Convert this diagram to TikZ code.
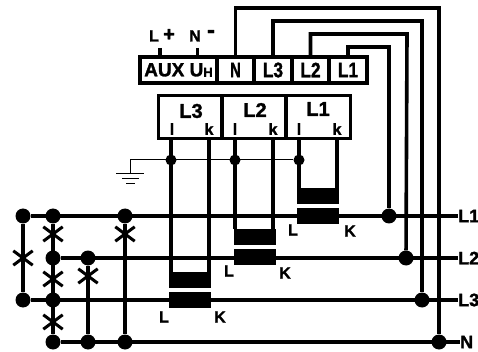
\documentclass[tikz,border=0pt]{standalone}
\usepackage{fontspec}
\setmainfont[BoldFeatures={FakeBold=1.5}]{Liberation Sans}
\usepackage{tikz}
\usetikzlibrary{shapes}

\newcommand{\narrowtext}[2]{\scalebox{#1}[1]{\bfseries\fontsize{21}{21}\selectfont #2}}

\tikzset{
    wire/.style={draw=black, line width=3.6pt},
    thinwire/.style={draw=black, line width=1pt},
    joint/.style={circle, fill=black, inner sep=0pt, minimum size=15pt},
    smalljoint/.style={circle, fill=black, inner sep=0pt, minimum size=11pt},
    corebar/.style={rectangle, fill=black, inner sep=0pt, minimum width=42pt, minimum height=16pt},
    terminal/.style={rectangle, draw=black, line width=3.8pt, fill=white, inner sep=0pt, minimum height=26pt},
    meterbox/.style={rectangle, draw=black, line width=3.8pt, fill=white, inner sep=0pt, minimum height=43pt, minimum width=64pt},
    fuse/.style={inner sep=0pt, minimum width=19pt, minimum height=14pt},
    tag/.style={inner sep=0pt, font=\bfseries\fontsize{16}{16}\selectfont},
    phase/.style={inner sep=0pt, anchor=west, font=\bfseries\fontsize{18}{18}\selectfont}
}

\begin{document}
\begin{tikzpicture}[x=1pt, y=-1pt]
            \useasboundingbox (0,0) rectangle (478,352);

            % terminal strip and meter inputs
            \node[terminal, minimum width=77pt] (AUX) at (178.5,70) {\bfseries\fontsize{19}{19}\selectfont AUX U\raisebox{-0.5pt}{\fontsize{13}{13}\selectfont H}};
            \node[terminal, minimum width=37.5pt] (termN) at (235.5,70) {\narrowtext{.7}{N}};
            \node[terminal, minimum width=37.5pt] (termL3) at (273,70) {\narrowtext{.82}{L3}};
            \node[terminal, minimum width=37.5pt] (termL2) at (310.5,70) {\narrowtext{.82}{L2}};
            \node[terminal, minimum width=37.5pt] (termL1) at (348,70) {\narrowtext{.82}{L1}};
            \node[meterbox] (boxL3) at (190.5,117) {};
            \node[meterbox] (boxL2) at (254,117) {};
            \node[meterbox] (boxL1) at (318.5,117) {};

            % texts in the meter inputs
            \node[tag, font=\bfseries\fontsize{20}{20}\selectfont] (nameL3) at (191,111) {L3};
            \node[tag, font=\bfseries\fontsize{20}{20}\selectfont] (nameL2) at (255,110) {L2};
            \node[tag, font=\bfseries\fontsize{20}{20}\selectfont] (nameL1) at (318,109) {L1};
            \node[tag] (lL3) at (172,129) {l};
            \node[tag] (kL3) at (209,129) {k};
            \node[tag] (lL2) at (235,129) {l};
            \node[tag] (kL2) at (273,129) {k};
            \node[tag] (lL1) at (299,129) {l};
            \node[tag] (kL1) at (337,129) {k};

            % supply labels
            \node[tag] (auxL) at (154,36) {L};
            \node[tag, font=\bfseries\fontsize{20}{20}\selectfont] (auxP) at (169,35) {+};
            \node[tag] (auxN) at (195,36) {N};
            \node[tag, font=\bfseries\fontsize{24}{24}\selectfont] (auxM) at (211,34) {-};
            \coordinate (stubL) at (160,48);
            \coordinate (stubN) at (197.5,48);

            % joints
            \node[joint] (a1) at (23,216) {};
            \node[joint] (a3) at (23,300) {};
            \node[joint] (b1) at (53,216) {};
            \node[joint] (b2) at (53,258) {};
            \node[joint] (b3) at (53,300) {};
            \node[joint] (bN) at (53,342) {};
            \node[joint] (c2) at (88,258) {};
            \node[joint] (cN) at (88,342) {};
            \node[joint] (d1) at (125,216) {};
            \node[joint] (dN) at (125,342) {};
            \node[joint] (eL1) at (389,216) {};
            \node[joint] (eL2) at (406,258) {};
            \node[joint] (eL3) at (422,300) {};
            \node[joint] (eN) at (439,342) {};
            \node[smalljoint] (gL3) at (171,160) {};
            \node[smalljoint] (gL2) at (235,160) {};
            \node[smalljoint] (gL1) at (299,160) {};

            % line names
            \node[phase] (lineL1) at (458,216) {L1};
            \node[phase] (lineL2) at (458,258) {L2};
            \node[phase] (lineL3) at (458,300) {L3};
            \node[phase] (lineN) at (460,342) {N};

            % top wires
            \coordinate (topN) at (439,8);
            \coordinate (topL3) at (422,21);
            \coordinate (topL2) at (407,34);
            \coordinate (topL1) at (389,47);
            \coordinate (groundA) at (130,160);
            \coordinate (groundB) at (130,174);

            % main wiring
            \begin{scope}[every path/.style={wire}]
                \path (a1) -- (lineL1.west);
                \path (b2) -- (lineL2.west);
                \path (a3) -- (lineL3.west);
                \path (bN) -- (lineN.west);
                \path (a1) -- (a3);
                \path (b1) -- (bN);
                \path (c2) -- (cN);
                \path (d1) -- (dN);
                \path (termN.north) |- (topN) -- (eN);
                \path (termL3.north) |- (topL3) -- (eL3);
                \path (termL2.north) |- (topL2) -- (eL2);
                \path (termL1.north) |- (topL1) -- (eL1);
                \path (stubL) -- (AUX.north -| stubL);
                \path (stubN) -- (AUX.north -| stubN);
            \end{scope}

            % transformers
            \node[corebar] (upL3) at (190,280) {};
            \node[corebar] (lowL3) at (190,300) {};
            \node[corebar] (upL2) at (255,237) {};
            \node[corebar] (lowL2) at (255,257) {};
            \node[corebar] (upL1) at (318,196) {};
            \node[corebar] (lowL1) at (318,216) {};
            \node[tag] (coreL3l) at (164,317) {L};
            \node[tag] (coreL3k) at (220,317) {K};
            \node[tag] (coreL2l) at (229,271) {L};
            \node[tag] (coreL2k) at (285,273) {K};
            \node[tag] (coreL1l) at (293,230) {L};
            \node[tag] (coreL1k) at (350,231) {K};

            % current paths
            \begin{scope}[every path/.style={wire}]
                \path (boxL3.south -| upL3.north west) ++(2,0) -- ++(0,132);
                \path (boxL3.south -| upL3.north east) ++(-2,0) -- ++(0,132);
                \path (boxL2.south -| upL2.north west) ++(1,0) -- ++(0,89);
                \path (boxL2.south -| upL2.north east) ++(-3,0) -- ++(0,89);
                \path (boxL1.south -| upL1.north west) ++(2,0) -- ++(0,48);
                \path (boxL1.south -| upL1.north east) ++(-2,0) -- ++(0,48);
            \end{scope}

            % earth
            \path[thinwire] (gL1) -- (groundA) -- (groundB);
            \coordinate (earth1) at (116,174);
            \coordinate (earth2) at (144,174);
            \coordinate (earth3) at (122,179);
            \coordinate (earth4) at (139,179);
            \coordinate (earth5) at (126,184);
            \coordinate (earth6) at (135,184);
            \path[thinwire] (earth1) -- (earth2);
            \path[thinwire] (earth3) -- (earth4);
            \path[thinwire] (earth5) -- (earth6);

            % fuses
            \begin{scope}[every node/.style={fuse}]
                \node (f1) at (23,258) {};
                \node (f2) at (53,234) {};
                \node (f3) at (53,279) {};
                \node (f4) at (53,322) {};
                \node (f5) at (88,276) {};
                \node (f6) at (125,234) {};
            \end{scope}
            \foreach \f in {f1,f2,f3,f4,f5,f6} {
                \path[wire, line width=3pt] (\f.north west) -- (\f.south east);
                \path[wire, line width=3pt] (\f.south west) -- (\f.north east);
            }
\end{tikzpicture}
\end{document}
